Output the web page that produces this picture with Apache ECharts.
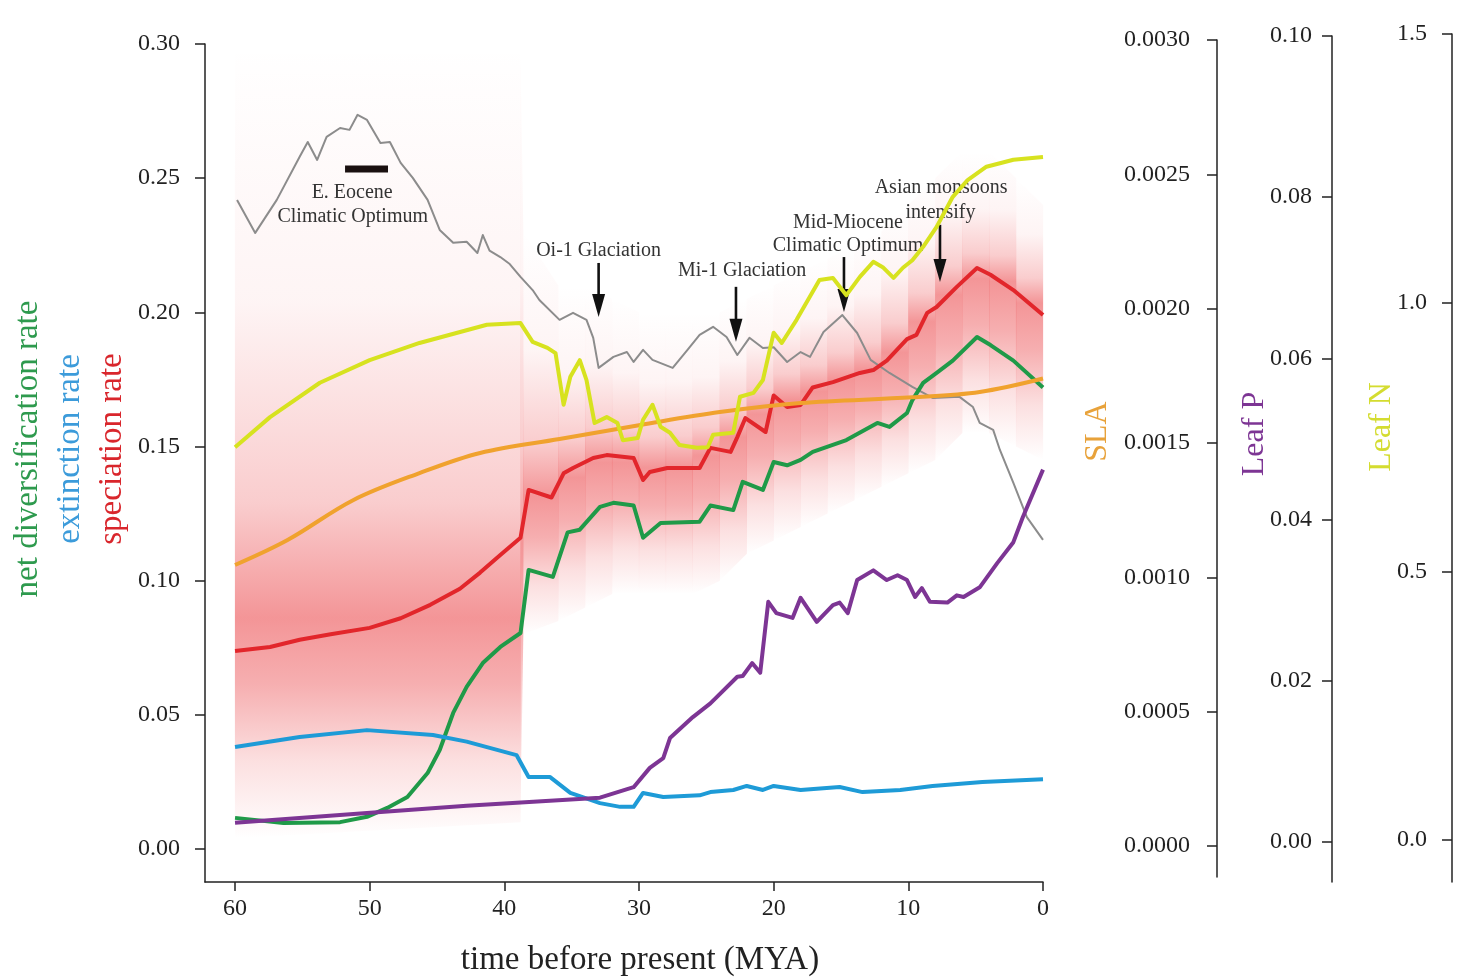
<!DOCTYPE html>
<html>
<head>
<meta charset="utf-8">
<title>Diversification rates and leaf traits through time</title>
<script src="https://cdn.jsdelivr.net/npm/echarts@6.0.0/dist/echarts.min.js"></script>
<style>
  html, body { margin: 0; padding: 0; background: #fff; }
  #main { width: 1465px; height: 978px; }
</style>
</head>
<body>
<div id="main"></div>
<script>
const serif = '"Liberation Serif", "Times New Roman", serif';
const ink = '#222';

// tick values
const timeTicks = [0, 10, 20, 30, 40, 50, 60];
const rateTicks = [0, 0.05, 0.10, 0.15, 0.20, 0.25, 0.30];
const slaTicks = [0, 0.0005, 0.0010, 0.0015, 0.0020, 0.0025, 0.0030];
const leafPTicks = [0, 0.02, 0.04, 0.06, 0.08, 0.10];
const leafNTicks = [0, 0.5, 1.0, 1.5];

// speciation rate (red)
const specTime = [60, 57.4, 55.2, 52.9, 50.0, 47.7, 45.5, 43.3, 41.8, 40.3, 38.8, 38.2, 36.5, 35.6, 34.9, 33.4, 32.4, 30.4, 29.7, 29.2, 27.9, 25.5, 24.7, 23.2, 22.7, 22.1, 20.6, 20.0, 19.0, 18.0, 17.1, 15.6, 13.6, 12.6, 11.6, 10.1, 9.4, 8.6, 7.9, 6.4, 4.9, 3.9, 2.2, 0];
const specRate = [0.0738, 0.0753, 0.0780, 0.0800, 0.0824, 0.0860, 0.0910, 0.0970, 0.1030, 0.1096, 0.1160, 0.1338, 0.1310, 0.1400, 0.1420, 0.1457, 0.1468, 0.1457, 0.1375, 0.1405, 0.1420, 0.1420, 0.1495, 0.1480, 0.1535, 0.1606, 0.1554, 0.1690, 0.1647, 0.1655, 0.1720, 0.1740, 0.1774, 0.1785, 0.1820, 0.1900, 0.1916, 0.1998, 0.2020, 0.2095, 0.2165, 0.2140, 0.2083, 0.1990];

// net diversification rate (green)
const netTime = [60, 56.4, 52.2, 50.2, 48.7, 47.2, 45.7, 44.8, 43.8, 42.8, 41.6, 40.3, 38.8, 38.2, 36.4, 35.3, 34.4, 32.9, 31.9, 30.4, 29.7, 28.4, 25.5, 24.7, 23.0, 22.3, 20.8, 20.0, 19.0, 18.0, 17.1, 14.6, 12.3, 11.4, 10.1, 9.7, 8.9, 7.9, 6.7, 4.9, 3.9, 2.2, 0];
const netRate = [0.0116, 0.0097, 0.0100, 0.0120, 0.0153, 0.0194, 0.0283, 0.0369, 0.0507, 0.0604, 0.0693, 0.0753, 0.0805, 0.1040, 0.1014, 0.1180, 0.1190, 0.1275, 0.1290, 0.1280, 0.1160, 0.1215, 0.1220, 0.1280, 0.1263, 0.1368, 0.1338, 0.1442, 0.1430, 0.1450, 0.1480, 0.1524, 0.1588, 0.1573, 0.1625, 0.1673, 0.1737, 0.1774, 0.1820, 0.1908, 0.1878, 0.1820, 0.1720];

// extinction rate (blue)
const extTime = [60, 55.2, 50.2, 45.3, 42.8, 39.1, 38.2, 36.6, 35.1, 32.9, 31.4, 30.4, 29.7, 28.2, 25.5, 24.7, 23.0, 22.0, 20.8, 20.0, 18.0, 15.1, 13.4, 10.6, 8.2, 4.5, 0];
const extRate = [0.0380, 0.0417, 0.0443, 0.0425, 0.0400, 0.0350, 0.0268, 0.0268, 0.0209, 0.0171, 0.0157, 0.0157, 0.0209, 0.0194, 0.0200, 0.0212, 0.0220, 0.0235, 0.0220, 0.0235, 0.0220, 0.0231, 0.0212, 0.0220, 0.0235, 0.0250, 0.0260];

// leaf P (purple)
const leafPTime = [60, 50.2, 42.8, 32.9, 30.4, 29.2, 28.2, 27.7, 26.0, 24.7, 22.7, 22.3, 21.6, 21.0, 20.4, 19.8, 18.6, 18.0, 16.8, 15.6, 15.1, 14.5, 13.8, 12.6, 11.6, 10.8, 10.1, 9.5, 9.0, 8.4, 7.1, 6.4, 5.9, 4.7, 3.4, 2.2, 1.5, 0];
const leafP = [0.0024, 0.0036, 0.0045, 0.0055, 0.0068, 0.0092, 0.0104, 0.0129, 0.0155, 0.0172, 0.0205, 0.0206, 0.0222, 0.0210, 0.0298, 0.0284, 0.0278, 0.0303, 0.0273, 0.0294, 0.0297, 0.0284, 0.0325, 0.0337, 0.0325, 0.0331, 0.0325, 0.0304, 0.0315, 0.0298, 0.0297, 0.0306, 0.0304, 0.0316, 0.0346, 0.0372, 0.0403, 0.0462];

// SLA (orange)
const slaTime = [60, 56.1, 51.2, 46.3, 41.8, 35.9, 29.9, 24.0, 18.0, 9.7, 4.7, 0];
const sla = [0.001046, 0.001139, 0.001288, 0.001388, 0.001463, 0.001515, 0.001567, 0.001615, 0.001649, 0.001670, 0.001690, 0.001740];

// leaf N (yellow)
const leafNTime = [60, 57.4, 53.7, 50.0, 46.3, 41.3, 38.8, 37.9, 36.8, 36.2, 35.6, 35.1, 34.4, 33.9, 33.3, 32.4, 31.6, 31.2, 30.1, 29.7, 29.0, 28.4, 27.7, 27.0, 25.7, 24.9, 24.5, 23.0, 22.5, 21.5, 20.8, 20.0, 19.4, 18.3, 16.6, 15.6, 14.6, 13.6, 12.6, 11.9, 11.1, 10.4, 9.7, 8.9, 7.9, 6.7, 5.6, 4.2, 2.2, 0];
const leafN = [0.731, 0.787, 0.851, 0.893, 0.925, 0.959, 0.962, 0.927, 0.916, 0.906, 0.810, 0.862, 0.893, 0.856, 0.776, 0.787, 0.776, 0.744, 0.748, 0.782, 0.810, 0.769, 0.758, 0.735, 0.730, 0.731, 0.754, 0.758, 0.825, 0.832, 0.856, 0.944, 0.925, 0.968, 1.042, 1.046, 1.014, 1.048, 1.076, 1.066, 1.046, 1.065, 1.079, 1.104, 1.141, 1.197, 1.228, 1.253, 1.266, 1.271];

// temperature curve (grey, no axis of its own; drawn in rate units)
const tempTime = [59.85, 58.5, 56.9, 55.2, 54.6, 53.9, 53.2, 52.2, 51.5, 50.9, 50.2, 49.2, 48.5, 47.7, 46.8, 45.7, 44.8, 43.8, 42.8, 42.0, 41.6, 41.1, 40.3, 39.6, 38.8, 37.9, 37.4, 35.9, 34.9, 33.9, 33.4, 33.0, 31.9, 30.9, 30.4, 29.7, 29.0, 27.5, 26.4, 25.5, 24.5, 23.5, 22.7, 21.8, 20.8, 20.0, 19.0, 18.0, 17.3, 16.3, 14.9, 13.8, 12.8, 11.4, 9.7, 8.2, 6.2, 5.2, 4.7, 3.7, 3.2, 2.2, 1.2, 0];
const tempVal = [0.2419, 0.2296, 0.2419, 0.2580, 0.2635, 0.2568, 0.2654, 0.2687, 0.2680, 0.2736, 0.2717, 0.2631, 0.2635, 0.2557, 0.2501, 0.2419, 0.2307, 0.2259, 0.2263, 0.2221, 0.2288, 0.2230, 0.2206, 0.2180, 0.2132, 0.2083, 0.2046, 0.1972, 0.1998, 0.1972, 0.1905, 0.1793, 0.1834, 0.1852, 0.1815, 0.1860, 0.1823, 0.1793, 0.1860, 0.1916, 0.1946, 0.1908, 0.1841, 0.1905, 0.1867, 0.1870, 0.1815, 0.1852, 0.1834, 0.1927, 0.1990, 0.1923, 0.1823, 0.1774, 0.1722, 0.1681, 0.1685, 0.1647, 0.1588, 0.1562, 0.1487, 0.1364, 0.1237, 0.1152];

// speciation rate uncertainty band
const bandTime = [60, 38.8, 38.6, 36, 34, 32, 30, 28, 26, 24, 22, 20, 18, 16, 14, 12, 10, 8, 6, 4, 2, 0];
const bandLo = [0.004, 0.010, 0.080, 0.085, 0.090, 0.095, 0.095, 0.095, 0.095, 0.100, 0.110, 0.115, 0.120, 0.125, 0.130, 0.135, 0.140, 0.145, 0.155, 0.155, 0.150, 0.145];
const bandMid = [0.072, 0.100, 0.128, 0.135, 0.142, 0.146, 0.142, 0.142, 0.143, 0.150, 0.157, 0.167, 0.168, 0.173, 0.177, 0.180, 0.190, 0.203, 0.210, 0.215, 0.208, 0.199];
const bandHi = [0.30, 0.30, 0.23, 0.21, 0.21, 0.205, 0.20, 0.20, 0.20, 0.20, 0.205, 0.21, 0.215, 0.22, 0.225, 0.23, 0.24, 0.25, 0.26, 0.26, 0.25, 0.24];

// climate events
const noteText = ['E. Eocene', 'Climatic Optimum', 'Oi-1 Glaciation', 'Mi-1 Glaciation', 'Mid-Miocene', 'Climatic Optimum', 'Asian monsoons', 'intensify'];
const noteTime = [51.3, 51.26, 33.0, 22.35, 14.48, 14.48, 7.57, 7.61];
const noteY = [0.2445, 0.2356, 0.2229, 0.2154, 0.2333, 0.2247, 0.2464, 0.2370];
const arrowTime = [33.0, 22.8, 14.78, 7.65];
const arrowTop = [0.2184, 0.2095, 0.2206, 0.2326];
const arrowTip = [0.1983, 0.1890, 0.2001, 0.2113];
const eoceneSpan = [51.83, 48.64];
const eoceneY = 0.2534;

const pairs = (t, v) => t.map((x, i) => [x, v[i]]);

const chart = echarts.init(document.getElementById('main'));

const xRange = { type: 'value', min: 0, max: 62.23, inverse: true };

function sideAxis(grid, min, max, ticks, digits, offset, margin, name, color, gap, shift) {
  return {
    type: 'value', gridIndex: grid, min: min, max: max, position: 'left', offset: offset,
    axisLine: { show: true, onZero: false, lineStyle: { color: ink, width: 1.5 } },
    axisTick: { show: true, length: 10, customValues: ticks, lineStyle: { color: ink, width: 1.5 } },
    axisLabel: { customValues: ticks, formatter: v => v.toFixed(digits), fontFamily: serif, fontSize: 24, color: ink, margin: margin },
    splitLine: { show: false },
    name: name, nameLocation: 'middle', nameRotate: 90, nameGap: gap, nameMoveOverlap: false,
    nameTextStyle: { color: color, fontFamily: serif, fontSize: 32, padding: [0, 0, 0, shift] }
  };
}

function line(name, t, v, color, width, xi, extra) {
  return Object.assign({
    type: 'line', name: name, data: pairs(t, v), xAxisIndex: xi, yAxisIndex: xi,
    symbol: 'none', showSymbol: false, silent: true,
    lineStyle: { color: color, width: width, join: 'round' }
  }, extra || {});
}

function renderBand(params, api) {
  const i = params.dataIndex;
  const a = api.coord([bandTime[i], bandHi[i]]);
  const b = api.coord([bandTime[i + 1], bandHi[i + 1]]);
  const c = api.coord([bandTime[i + 1], bandLo[i + 1]]);
  const d = api.coord([bandTime[i], bandLo[i]]);
  const m1 = api.coord([bandTime[i], bandMid[i]]);
  const m2 = api.coord([bandTime[i + 1], bandMid[i + 1]]);
  // tiny overlap so neighbouring strips do not leave hairline seams
  a[0] -= 0.12; d[0] -= 0.12; b[0] += 0.12; c[0] += 0.12;
  const top = Math.min(a[1], b[1]);
  const bottom = Math.max(c[1], d[1]);
  let f = ((m1[1] + m2[1]) / 2 - top) / (bottom - top);
  f = Math.min(0.97, Math.max(0.03, f));
  const red = al => 'rgba(232,44,48,' + al + ')';
  return {
    type: 'polygon',
    shape: { points: [a, b, c, d] },
    style: {
      fill: new echarts.graphic.LinearGradient(0, 0, 0, 1, [
        { offset: 0, color: red(0) },
        { offset: f * 0.45, color: red(0.05) },
        { offset: f * 0.8, color: red(0.24) },
        { offset: f, color: red(0.5) },
        { offset: f + (1 - f) * 0.3, color: red(0.38) },
        { offset: f + (1 - f) * 0.65, color: red(0.15) },
        { offset: 1, color: red(0) }
      ])
    }
  };
}

function renderArrow(params, api) {
  const top = api.coord([api.value(0), api.value(1)]);
  const tip = api.coord([api.value(0), api.value(2)]);
  const head = 23, half = 6.5;
  return {
    type: 'group',
    children: [
      { type: 'line', shape: { x1: top[0], y1: top[1], x2: tip[0], y2: tip[1] - head + 2 }, style: { stroke: '#111', lineWidth: 2.6 } },
      { type: 'polygon', shape: { points: [[tip[0], tip[1]], [tip[0] - half, tip[1] - head], [tip[0] + half, tip[1] - head]] }, style: { fill: '#111' } }
    ]
  };
}

function renderNote(params, api) {
  const p = api.coord([api.value(0), api.value(1)]);
  return {
    type: 'text', x: p[0], y: p[1],
    style: { text: noteText[params.dataIndex], fill: '#333', font: '20px ' + serif, align: 'center', verticalAlign: 'middle' }
  };
}

const option = {
  animation: false,
  backgroundColor: '#fff',
  textStyle: { fontFamily: serif },
  grid: [
    { left: 205, top: 44, width: 838, height: 838, outerBoundsMode: 'none' },
    { left: 205, top: 40, width: 838, height: 837, outerBoundsMode: 'none' },
    { left: 205, top: 36, width: 838, height: 846, outerBoundsMode: 'none' },
    { left: 205, top: 34, width: 838, height: 848, outerBoundsMode: 'none' }
  ],
  xAxis: [
    Object.assign({}, xRange, {
      gridIndex: 0,
      axisLine: { show: true, onZero: false, lineStyle: { color: ink, width: 1.5 } },
      axisTick: { show: true, length: 9, customValues: timeTicks, lineStyle: { color: ink, width: 1.5 } },
      axisLabel: { customValues: timeTicks, fontFamily: serif, fontSize: 24, color: ink, margin: 15 },
      splitLine: { show: false },
      name: 'time before present (MYA)', nameLocation: 'middle', nameGap: 62, nameMoveOverlap: false,
      nameTextStyle: { fontFamily: serif, fontSize: 33, color: ink, padding: [0, 0, 0, 32] }
    }),
    Object.assign({}, xRange, { gridIndex: 1, show: false }),
    Object.assign({}, xRange, { gridIndex: 2, show: false }),
    Object.assign({}, xRange, { gridIndex: 3, show: false })
  ],
  yAxis: [
    {
      type: 'value', gridIndex: 0, min: -0.0123, max: 0.30, position: 'left',
      axisLine: { show: true, onZero: false, lineStyle: { color: ink, width: 1.5 } },
      axisTick: { show: true, length: 10, customValues: rateTicks, lineStyle: { color: ink, width: 1.5 } },
      axisLabel: { customValues: rateTicks, formatter: v => v.toFixed(2), fontFamily: serif, fontSize: 24, color: ink, margin: 25 },
      splitLine: { show: false },
      name: '{g|net diversification rate}\n{b|extinction rate}\n{r|speciation rate}',
      nameLocation: 'middle', nameRotate: 90, nameGap: 72, nameMoveOverlap: false,
      nameTextStyle: {
        fontFamily: serif, fontSize: 33, lineHeight: 42, padding: [0, 0, 0, 28],
        rich: {
          g: { color: '#2E9A4E', fontFamily: serif, fontSize: 33, lineHeight: 42 },
          b: { color: '#3C9BDA', fontFamily: serif, fontSize: 33, lineHeight: 42 },
          r: { color: '#D9262C', fontFamily: serif, fontSize: 33, lineHeight: 42 }
        }
      }
    },
    sideAxis(1, -0.0001154, 0.0030, slaTicks, 4, -1012, 27, 'SLA', '#E8A23A', 103, 54),
    sideAxis(2, -0.004963, 0.10, leafPTicks, 2, -1127, 20, 'Leaf P', '#7D3594', 61, 50),
    sideAxis(3, -0.07816, 1.5, leafNTicks, 1, -1247, 25, 'Leaf N', '#D4DC30', 54, 62)
  ],
  series: [
    {
      type: 'custom', name: 'speciation band', xAxisIndex: 0, yAxisIndex: 0, silent: true,
      data: bandTime.slice(0, -1).map((t, i) => [t, bandMid[i]]),
      renderItem: renderBand
    },
    line('temperature', tempTime, tempVal, '#8C8C8C', 2, 0),
    line('speciation rate', specTime, specRate, '#E2262B', 4, 0),
    line('net diversification rate', netTime, netRate, '#1F9A48', 4, 0),
    line('extinction rate', extTime, extRate, '#1E9BD7', 4, 0),
    line('Leaf P', leafPTime, leafP, '#7D3594', 4, 2),
    line('SLA', slaTime, sla, '#F0A22E', 4, 1, { smooth: 0.35 }),
    line('Leaf N', leafNTime, leafN, '#D7E21F', 4, 3),
    {
      type: 'line', name: 'E. Eocene', xAxisIndex: 0, yAxisIndex: 0, symbol: 'none', silent: true,
      data: [[eoceneSpan[0], eoceneY], [eoceneSpan[1], eoceneY]],
      lineStyle: { color: '#1a1010', width: 7, cap: 'butt' }
    },
    {
      type: 'custom', name: 'arrows', xAxisIndex: 0, yAxisIndex: 0, silent: true,
      data: arrowTime.map((t, i) => [t, arrowTop[i], arrowTip[i]]),
      encode: { x: 0, y: [1, 2] },
      renderItem: renderArrow
    },
    {
      type: 'custom', name: 'notes', xAxisIndex: 0, yAxisIndex: 0, silent: true,
      data: pairs(noteTime, noteY),
      renderItem: renderNote
    }
  ]
};

chart.setOption(option);
</script>
</body>
</html>
